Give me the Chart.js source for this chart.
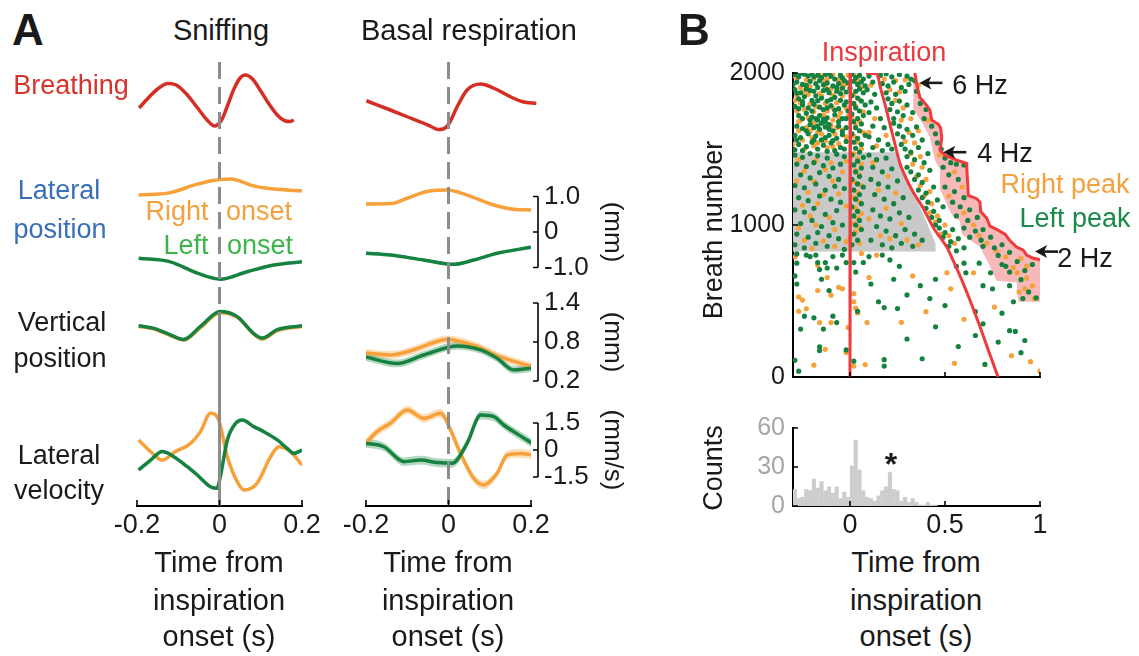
<!DOCTYPE html>
<html>
<head>
<meta charset="utf-8">
<title>Whisker position and breathing</title>
<script src="https://cdn.jsdelivr.net/npm/chart.js@4.4.1/dist/chart.umd.min.js"></script>
<style>
  html, body { margin: 0; background: #fff; }
  #fig { position: relative; width: 1139px; height: 656px; overflow: hidden;
         font-family: "Liberation Sans", Arial, sans-serif; color: #1a1a1a; }
  #fig canvas { position: absolute; }
  .lbl { position: absolute; white-space: nowrap; line-height: 1; font-size: 27px;
         transform: translate(-50%, -50%); }
  .vert { transform: translate(-50%, -50%) rotate(-90deg); }
  .panel { font-weight: bold; font-size: 44px; }
  .head, .axt { font-size: 29px; }
</style>
</head>
<body>
<div id="fig">
  <canvas id="sniff" width="230" height="500" style="left:100px;top:50px"></canvas>
  <canvas id="basal" width="310" height="500" style="left:330px;top:50px"></canvas>
  <canvas id="raster" width="439" height="350" style="left:700px;top:50px"></canvas>
  <canvas id="hist" width="439" height="140" style="left:700px;top:405px"></canvas>

  <div class="lbl panel" style="left:28px;top:30px">A</div>
  <div class="lbl panel" style="left:694px;top:30px">B</div>
  <div class="lbl head" style="left:221px;top:30px">Sniffing</div>
  <div class="lbl head" style="left:469px;top:30px">Basal respiration</div>

  <div class="lbl" style="left:71px;top:85px;color:#d6332a">Breathing</div>
  <div class="lbl" style="left:59px;top:190px;color:#3a6fb7">Lateral</div>
  <div class="lbl" style="left:60px;top:229px;color:#3a6fb7">position</div>
  <div class="lbl" style="left:177px;top:211px;color:#f5a03e">Right</div>
  <div class="lbl" style="left:259px;top:211px;color:#f5a03e">onset</div>
  <div class="lbl" style="left:186px;top:245px;color:#3bb54a">Left</div>
  <div class="lbl" style="left:260px;top:245px;color:#3bb54a">onset</div>
  <div class="lbl" style="left:62px;top:322px">Vertical</div>
  <div class="lbl" style="left:60px;top:358px">position</div>
  <div class="lbl" style="left:59px;top:455px">Lateral</div>
  <div class="lbl" style="left:59px;top:490px">velocity</div>

  <div class="lbl axt" style="left:219px;top:562px">Time from</div>
  <div class="lbl axt" style="left:219px;top:600px">inspiration</div>
  <div class="lbl axt" style="left:219px;top:636px">onset (s)</div>
  <div class="lbl axt" style="left:448px;top:562px">Time from</div>
  <div class="lbl axt" style="left:448px;top:600px">inspiration</div>
  <div class="lbl axt" style="left:448px;top:636px">onset (s)</div>

  <div class="lbl" style="left:884px;top:52px;color:#e8393f">Inspiration</div>
  <div class="lbl" style="left:980px;top:85px">6 Hz</div>
  <div class="lbl" style="left:1005px;top:153px">4 Hz</div>
  <div class="lbl" style="left:1065px;top:184px;color:#f5a03e">Right peak</div>
  <div class="lbl" style="left:1075px;top:218px;color:#1a8a48">Left peak</div>
  <div class="lbl" style="left:1085px;top:258px">2 Hz</div>
  <div class="lbl vert" style="left:713px;top:230px">Breath number</div>
  <div class="lbl vert" style="left:713px;top:468px">Counts</div>
  <div class="lbl" style="left:891px;top:464px;font-size:32px;font-weight:bold">*</div>
  <div class="lbl axt" style="left:916px;top:562px">Time from</div>
  <div class="lbl axt" style="left:916px;top:600px">inspiration</div>
  <div class="lbl axt" style="left:916px;top:636px">onset (s)</div>
</div>

<script>
Chart.defaults.font.family = '"Liberation Sans", Arial, sans-serif';
Chart.defaults.color = '#1a1a1a';

// ---------- panel A: mean traces [time (s), value] ----------
const timeTicks = [-0.2, 0, 0.2];

// breathing (a.u.)
const sniffBreath = [[-0.195,-0.32],[-0.175,0.04],[-0.15,0.44],[-0.125,0.66],[-0.105,0.6],[-0.08,0.24],[-0.055,-0.28],[-0.03,-0.8],[-0.012,-1.04],[0.005,-0.8],[0.02,-0.2],[0.035,0.44],[0.05,0.88],[0.063,1.0],[0.08,0.84],[0.1,0.36],[0.12,-0.16],[0.14,-0.6],[0.16,-0.84],[0.172,-0.86],[0.18,-0.8]];
const basalBreath = [[-0.199,-0.03],[-0.141,-0.4],[-0.1,-0.67],[-0.06,-0.93],[-0.04,-1.08],[-0.025,-1.18],[-0.013,-1.16],[0.001,-0.95],[0.021,-0.27],[0.045,0.4],[0.078,0.64],[0.11,0.47],[0.15,0.13],[0.18,-0.07],[0.213,-0.13]];

// lateral position (mm)
const sniffLatRight = [[-0.196,1.04],[-0.119,1.11],[-0.054,1.35],[0.002,1.48],[0.027,1.49],[0.083,1.3],[0.116,1.23],[0.2,1.16]];
const sniffLatLeft = [[-0.196,-0.74],[-0.119,-0.84],[-0.054,-1.16],[0.002,-1.33],[0.067,-1.12],[0.132,-0.93],[0.2,-0.84]];
const basalLatRight = [[-0.2,0.79],[-0.14,0.8],[-0.1,0.95],[-0.052,1.14],[-0.003,1.18],[0.045,1.04],[0.102,0.79],[0.158,0.64],[0.2,0.62]];
const basalLatLeft = [[-0.2,-0.6],[-0.14,-0.65],[-0.06,-0.79],[0.013,-0.91],[0.061,-0.79],[0.118,-0.6],[0.2,-0.43]];

// vertical position (mm)
const sniffVertRight = [[-0.196,1.04],[-0.159,1.0],[-0.119,0.9],[-0.087,0.83],[-0.046,1.02],[0.002,1.25],[0.043,1.18],[0.083,0.92],[0.104,0.845],[0.14,0.975],[0.2,1.04]];
const sniffVertLeft = [[-0.196,1.05],[-0.159,1.01],[-0.119,0.91],[-0.087,0.84],[-0.046,1.04],[0.002,1.27],[0.043,1.19],[0.083,0.93],[0.104,0.86],[0.14,0.99],[0.2,1.05]];
const basalVertRight = [[-0.201,0.63],[-0.141,0.6],[-0.084,0.68],[-0.003,0.84],[0.061,0.75],[0.126,0.57],[0.203,0.42]];
const basalVertLeft = [[-0.201,0.57],[-0.124,0.47],[-0.06,0.6],[0.021,0.74],[0.078,0.68],[0.118,0.55],[0.158,0.37],[0.203,0.4]];

// lateral velocity (mm/s)
const sniffVelRight = [[-0.196,0.56],[-0.167,-0.09],[-0.139,-0.56],[-0.107,-0.09],[-0.07,0.37],[-0.046,1.02],[-0.022,2.04],[-0.002,1.67],[0.019,-0.37],[0.043,-1.76],[0.059,-2.22],[0.091,-1.85],[0.124,-0.37],[0.144,0.18],[0.172,-0.09],[0.2,-0.83]];
const sniffVelLeft = [[-0.196,-1.11],[-0.167,-0.56],[-0.139,-0.09],[-0.111,-0.37],[-0.078,-0.93],[-0.054,-1.39],[-0.022,-2.04],[-0.006,-2.13],[0.002,-1.48],[0.019,0.56],[0.039,1.48],[0.055,1.67],[0.083,1.3],[0.107,1.02],[0.14,0.56],[0.164,0.09],[0.18,-0.19],[0.2,0]];
const basalVelRight = [[-0.201,0.37],[-0.173,1.02],[-0.141,1.48],[-0.1,2.22],[-0.06,1.76],[-0.019,2.04],[0.005,1.11],[0.029,-0.19],[0.061,-1.57],[0.085,-1.94],[0.118,-1.29],[0.142,-0.28],[0.175,-0.19],[0.203,-0.28]];
const basalVelLeft = [[-0.201,0.37],[-0.157,0.18],[-0.108,-0.65],[-0.068,-0.56],[-0.027,-0.7],[0.009,-0.74],[0.045,0.37],[0.078,1.94],[0.11,1.85],[0.134,1.39],[0.158,1.02],[0.203,0.37]];

// s.e.m. half-widths of the shaded bands
const semSniff = { lat: 0.02, vert: 0.02, vel: 0.09 };
const semBasal = { lat: 0.04, vert: 0.06, vel: 0.24 };

// scale bar ticks on the basal column
const latBar = [-1, 0, 1], latBarLabels = ['-1.0', '0', '1.0'];
const vertBar = [0.2, 0.8, 1.4], vertBarLabels = ['0.2', '0.8', '1.4'];
const velBar = [-1.5, 0, 1.5], velBarLabels = ['-1.5', '0', '1.5'];

// ---------- panel B: peaks per breath [time (s), breath number] ----------
const breathTicks = [0, 1000, 2000];
const rasterTimeTicks = [0, 0.5, 1];

const thisInsp = [[0.003,2000],[0,0]];
const nextInsp = [[0.084,2000],[0.14,1994],[0.158,1913],[0.185,1790],[0.211,1659],[0.237,1530],[0.263,1405],[0.298,1300],[0.333,1215],[0.386,1109],[0.439,982],[0.509,855],[0.545,760],[0.579,665],[0.63,510],[0.68,345],[0.73,170],[0.779,0]];
const secondInsp = [[0.342,2000],[0.351,1924],[0.368,1839],[0.404,1786],[0.421,1754],[0.43,1691],[0.465,1663],[0.477,1638],[0.483,1575],[0.474,1490],[0.5,1458],[0.562,1427],[0.614,1405],[0.617,1321],[0.623,1194],[0.667,1173],[0.684,1151],[0.688,1088],[0.719,1046],[0.737,992],[0.772,971],[0.816,940],[0.842,897],[0.877,855],[0.912,834],[0.93,802],[0.965,781],[0.991,775],[1.0,768]];
const pinkZone = [[0.342,2000],[0.351,1924],[0.368,1839],[0.404,1786],[0.421,1754],[0.43,1691],[0.465,1663],[0.477,1638],[0.483,1575],[0.474,1490],[0.5,1458],[0.562,1427],[0.614,1405],[0.617,1321],[0.623,1194],[0.667,1173],[0.684,1151],[0.688,1088],[0.719,1046],[0.737,992],[0.772,971],[0.816,940],[0.842,897],[0.877,855],[0.912,834],[0.93,802],[0.965,781],[0.991,775],[1.0,768],
  [1.0,495],[0.886,495],[0.877,622],[0.772,633],[0.737,728],[0.684,855],[0.588,940],[0.579,1024],[0.535,1067],[0.474,1236],[0.474,1363],[0.447,1427],[0.421,1575],[0.386,1659],[0.333,1765],[0.333,2000]];
const grayBand = [[-0.3,1479],[0.24,1479],[0.3,1300],[0.36,1140],[0.41,1000],[0.45,880],[0.45,825],[-0.3,825]];

const leftPeaks = [
  [-0.29,1990],[-0.27,1975],[-0.24,1992],[-0.22,1980],[-0.2,1995],[-0.17,1985],[-0.15,1970],[-0.13,1990],[-0.1,1978],[-0.08,1960],[-0.05,1985],[-0.03,1950],
  [-0.28,1940],[-0.25,1925],[-0.21,1945],[-0.18,1930],[-0.16,1950],[-0.12,1935],[-0.09,1915],[-0.06,1930],[-0.04,1900],
  [-0.29,1890],[-0.26,1870],[-0.23,1895],[-0.19,1880],[-0.17,1905],[-0.14,1885],[-0.11,1870],[-0.07,1880],[-0.02,1875],
  [-0.27,1830],[-0.24,1845],[-0.2,1820],[-0.18,1850],[-0.15,1835],[-0.12,1815],[-0.08,1840],[-0.05,1820],
  [-0.29,1780],[-0.25,1790],[-0.22,1770],[-0.19,1795],[-0.16,1775],[-0.14,1760],[-0.1,1785],[-0.06,1765],[-0.03,1790],
  [-0.27,1720],[-0.23,1735],[-0.2,1710],[-0.18,1700],[-0.17,1690],[-0.16,1720],[-0.15,1670],[-0.14,1695],[-0.13,1680],[-0.12,1705],[-0.11,1660],[-0.08,1725],[-0.04,1700],
  [-0.28,1650],[-0.25,1635],[-0.21,1660],[-0.19,1640],[-0.16,1630],[-0.13,1645],[-0.09,1620],[-0.06,1650],[-0.02,1640],
  [-0.29,1590],[-0.26,1575],[-0.22,1600],[-0.18,1585],[-0.15,1560],[-0.11,1590],[-0.07,1570],[-0.04,1595],
  [-0.27,1530],[-0.23,1515],[-0.2,1545],[-0.14,1525],[-0.1,1540],[-0.05,1510],[-0.29,1495],[-0.17,1500],[-0.08,1490],
  [-0.26,1998],[-0.19,1975],[-0.11,1998],[-0.04,1968],[-0.3,1925],[-0.23,1918],[-0.14,1922],[-0.07,1905],[-0.01,1935],[-0.28,1868],[-0.21,1885],[-0.12,1890],[-0.05,1865],
  [-0.25,1812],[-0.17,1818],[-0.1,1825],[-0.02,1810],[-0.27,1765],[-0.2,1750],[-0.12,1770],[-0.08,1755],[-0.01,1750],[-0.25,1700],[-0.21,1690],[-0.06,1680],[-0.02,1700],
  [-0.23,1620],[-0.17,1650],[-0.11,1630],[-0.04,1615],[-0.28,1560],[-0.19,1560],[-0.13,1575],[-0.09,1555],[-0.02,1550],[-0.25,1490],[-0.12,1485],[-0.03,1500],
  [0.01,1990],[0.03,1970],[0.05,1985],[0.07,1960],[0.02,1945],[0.04,1925],[0.06,1940],[0.08,1915],[0.0,1900],[0.03,1880],[0.05,1895],[0.07,1870],
  [0.01,1850],[0.04,1835],[0.06,1815],[0.02,1800],[0.08,1790],[0.03,1770],[0.05,1750],[0.01,1730],[0.07,1720],[0.04,1700],[0.02,1680],[0.06,1665],
  [0.03,1640],[0.05,1620],[0.01,1600],[0.08,1590],[0.04,1570],[0.02,1545],[0.06,1530],[0.03,1505],[0.05,1480],[0.01,1460],[0.07,1445],[0.04,1420],
  [0.02,1395],[0.06,1375],[0.03,1350],[0.05,1320],[0.01,1300],[0.04,1270],[0.07,1250],[0.02,1230],[0.05,1200],[0.03,1170],[0.06,1140],[0.01,1120],
  [0.04,1090],[0.02,1060],[0.05,1030],[0.03,1000],[0.06,970],[0.02,940],[0.04,900],[0.01,870],
  [0.1,1980],[0.12,1940],[0.09,1890],[0.13,1860],[0.11,1810],[0.14,1770],[0.1,1740],[0.16,1700],[0.12,1650],[0.18,1640],[0.1,1580],[0.15,1560],[0.2,1530],[0.12,1510],[0.17,1490],[0.22,1500],
  [0.16,1985],[0.19,1995],[0.22,1975],[0.26,1990],[0.3,1980],[0.32,1960],
  [0.17,1930],[0.2,1915],[0.23,1940],[0.27,1905],[0.31,1925],[0.19,1870],[0.24,1860],[0.29,1880],
  [0.2,1830],[0.22,1800],[0.26,1815],[0.3,1790],[0.21,1760],[0.25,1745],[0.28,1720],[0.33,1740],[0.23,1700],
  [0.23,1670],[0.26,1650],[0.3,1630],[0.35,1645],[0.25,1600],[0.28,1580],[0.33,1590],[0.38,1560],
  [0.27,1530],[0.29,1500],[0.32,1480],[0.36,1510],[0.41,1470],[0.3,1450],[0.34,1430],[0.39,1410],
  [0.3,1380],[0.32,1350],[0.36,1330],[0.42,1360],[0.34,1300],[0.38,1280],[0.44,1250],[0.36,1230],[0.4,1210],
  [0.38,1180],[0.41,1150],[0.46,1165],[0.4,1110],[0.44,1090],[0.49,1120],[0.43,1050],[0.47,1030],[0.45,1000],
  [0.47,980],[0.5,950],[0.54,970],[0.49,920],[0.53,890],[0.57,910],[0.52,860],[0.56,830],[0.6,850],
  [0.34,1950],[0.35,1880],[0.37,1800],[0.4,1760],[0.39,1700],[0.43,1650],[0.45,1600],[0.46,1540],[0.48,1500],[0.5,1440],[0.53,1410],[0.56,1400],[0.6,1395],
  [0.49,1380],[0.52,1330],[0.57,1300],[0.5,1250],[0.55,1220],[0.6,1180],[0.54,1150],[0.58,1120],[0.63,1100],[0.56,1060],[0.62,1030],[0.67,1050],
  [0.6,980],[0.66,960],[0.7,970],[0.63,920],[0.69,900],[0.74,920],[0.7,860],[0.76,850],[0.8,870],[0.78,800],[0.84,820],[0.8,740],[0.88,760],[0.84,690],[0.92,700],[0.9,640],[0.96,740],[0.94,560],[0.98,520],
  [-0.29,1460],[-0.25,1445],[-0.21,1470],[-0.17,1455],[-0.12,1440],[-0.07,1465],[-0.03,1450],
  [-0.28,1400],[-0.23,1385],[-0.19,1410],[-0.14,1390],[-0.09,1375],[-0.05,1400],
  [-0.26,1330],[-0.21,1310],[-0.16,1345],[-0.11,1320],[-0.06,1300],
  [-0.29,1260],[-0.24,1245],[-0.18,1270],[-0.13,1230],[-0.08,1255],[-0.03,1240],
  [-0.27,1180],[-0.22,1160],[-0.16,1190],[-0.1,1170],[-0.05,1150],
  [-0.29,1100],[-0.24,1085],[-0.19,1110],[-0.13,1070],[-0.07,1095],
  [-0.26,1010],[-0.2,1030],[-0.15,990],[-0.09,1015],[-0.04,1000],
  [-0.28,940],[-0.22,920],[-0.17,950],[-0.11,930],[-0.06,910],
  [-0.29,870],[-0.24,850],[-0.18,880],[-0.12,860],[-0.03,840],
  [0.1,1460],[0.14,1430],[0.19,1440],[0.12,1380],[0.17,1350],[0.22,1370],[0.11,1300],[0.15,1270],[0.2,1250],[0.25,1290],[0.13,1200],[0.18,1170],[0.23,1140],[0.28,1180],
  [0.12,1100],[0.16,1060],[0.21,1040],[0.26,1080],[0.31,1050],[0.14,990],[0.19,960],[0.24,930],[0.29,970],[0.34,940],[0.11,900],[0.17,870],[0.22,850],[0.27,880],[0.33,860],[0.38,900],
  [-0.28,810],[-0.23,802],[-0.21,792],[-0.18,802],[-0.17,753],[-0.13,753],[-0.12,717],[-0.16,707],[-0.09,792],[-0.07,717],[-0.04,802],[-0.02,753],[0.02,753],[0.03,690],[0.07,753],[0.1,792],[0.17,802],
  [-0.28,749],[-0.29,665],[-0.28,612],[-0.15,643],[-0.11,569],[0.11,612],[0.04,432],[0.15,495],[0.18,457],[-0.24,400],[-0.19,389],[-0.26,315],[-0.09,400],[-0.07,358],[-0.14,315],
  [-0.16,199],[-0.16,174],[-0.02,178],[-0.29,110],[-0.27,38],[0.02,104],[0.18,114],[0.18,72],
  [0.21,770],[0.26,728],[0.23,643],[0.56,728],[0.6,749],[0.61,686],[0.68,749],[0.7,601],[0.74,686],[0.82,728],[0.75,580],[0.84,601],[0.86,495],[0.91,516],
  [0.37,601],[0.45,643],[0.42,516],[0.3,540],[0.25,450],[0.5,470],[0.66,430],[0.7,350],[0.8,420],[0.87,300],[0.92,240],[0.84,305],[0.66,273],[0.71,83],[0.3,250],[0.45,330],[0.57,200],[0.38,120],[0.9,160],[0.78,230]
];

const rightPeaks = [
  [-0.28,1965],[-0.23,1955],[-0.19,1965],[-0.14,1948],[-0.09,1995],[-0.06,1958],[-0.01,1985],
  [-0.26,1905],[-0.21,1910],[-0.13,1910],[-0.1,1895],[-0.03,1920],
  [-0.28,1855],[-0.22,1860],[-0.16,1865],[-0.09,1855],[-0.04,1850],
  [-0.26,1805],[-0.21,1795],[-0.13,1800],[-0.07,1805],[-0.02,1770],
  [-0.28,1750],[-0.24,1760],[-0.19,1745],[-0.12,1750],[-0.05,1740],
  [-0.26,1690],[-0.22,1705],[-0.09,1690],[-0.06,1710],[-0.01,1715],
  [-0.27,1620],[-0.23,1640],[-0.17,1610],[-0.1,1655],[-0.04,1625],
  [-0.25,1560],[-0.2,1575],[-0.13,1555],[-0.08,1600],[-0.02,1580],
  [-0.24,1500],[-0.12,1510],[-0.06,1535],[-0.19,1520],
  [-0.3,1980],[-0.16,1995],[-0.12,1960],[-0.04,1935],[-0.24,1880],[-0.15,1850],[-0.06,1890],[-0.29,1820],[-0.18,1780],[-0.09,1770],
  [-0.27,1680],[-0.14,1725],[-0.19,1670],[-0.07,1640],[-0.21,1620],[-0.15,1600],[-0.3,1530],[-0.17,1540],[-0.09,1515],
  [0.02,1995],[0.04,1955],[0.06,1905],[0.02,1860],[0.05,1825],[0.03,1780],[0.07,1745],[0.01,1710],[0.05,1685],[0.03,1655],[0.07,1610],[0.02,1585],
  [0.04,1545],[0.06,1500],[0.02,1470],[0.04,1435],[0.06,1400],[0.03,1360],[0.05,1330],[0.02,1285],[0.06,1260],[0.04,1215],[0.02,1180],[0.05,1150],
  [0.03,1110],[0.06,1075],[0.04,1045],[0.02,1010],[0.05,985],[0.03,955],[0.0,920],[0.05,880],
  [0.11,1920],[0.13,1700],[0.1,1610],[0.19,1590],[0.14,1520],
  [0.18,1960],[0.24,1950],[0.29,1955],[0.21,1890],[0.26,1875],[0.24,1820],[0.28,1770],[0.32,1700],[0.27,1690],[0.31,1610],[0.36,1620],[0.29,1550],
  [0.34,1540],[0.32,1470],[0.37,1450],[0.33,1400],[0.38,1380],[0.35,1320],[0.4,1300],[0.37,1260],[0.42,1220],[0.39,1190],[0.43,1140],[0.42,1080],
  [0.46,1060],[0.45,1020],[0.5,1000],[0.48,940],[0.52,930],[0.55,880],
  [0.36,1920],[0.41,1690],[0.47,1460],[0.55,1350],[0.52,1190],[0.59,1250],[0.6,1080],[0.65,1000],[0.68,930],[0.72,880],[0.77,830],[0.82,790],[0.86,720],[0.9,780],[0.93,650],[0.96,600],[0.89,560],
  [-0.27,1430],[-0.18,1425],[-0.1,1410],[-0.02,1420],[-0.24,1355],[-0.13,1365],[-0.04,1350],[-0.28,1290],[-0.19,1285],[-0.09,1290],
  [-0.22,1215],[-0.14,1200],[-0.06,1205],[-0.25,1130],[-0.17,1140],[-0.02,1125],[-0.21,1060],[-0.11,1050],[-0.27,980],[-0.18,1000],[-0.08,970],
  [-0.24,900],[-0.14,895],[-0.02,890],[-0.2,845],[-0.08,860],
  [0.12,1410],[0.2,1320],[0.15,1230],[0.24,1210],[0.19,1110],[0.1,1040],[0.27,1010],[0.16,930],[0.3,900],[0.21,910],[0.36,870],
  [-0.29,790],[-0.17,735],[0.06,813],[0.14,802],[-0.12,654],[-0.17,569],[-0.1,538],[-0.06,590],[-0.04,580],[0.1,654],[0.02,548],[0.02,495],[0.03,453],[0.04,421],
  [-0.27,527],[-0.25,506],[-0.27,432],[-0.23,449],[-0.16,358],[-0.1,358],[-0.01,326],[0.09,358],[-0.13,182],[-0.02,161],[-0.19,78],[0.02,72],[0.08,82],
  [0.33,665],[0.53,580],[0.65,686],[0.88,686],[0.93,728],[0.92,580],[0.97,516],[0.51,686],[0.4,430],[0.6,380],[0.95,101],[1.0,38],[0.85,140],[0.76,460],[0.27,360],[0.55,90]
];

// histogram of right-peak times (bin centres in s, counts)
const binCenters = [-0.29,-0.27,-0.25,-0.23,-0.21,-0.19,-0.17,-0.15,-0.13,-0.11,-0.09,-0.07,-0.05,-0.03,-0.01,0.01,0.03,0.05,0.07,0.09,0.11,0.13,0.15,0.17,0.19,0.21,0.23,0.25,0.27,0.29,0.31,0.33,0.35,0.37,0.39,0.41,0.43,0.45,0.47,0.49];
const binCounts = [13,6,7,13,12,21,14,19,12,15,10,15,6,11,7,31,51,28,12,7,6,4,8,12,15,26,13,12,4,7,3,6,3,1,1,3,1,1,0,0];
const countTicks = [0, 30, 60];

// ---------- colours ----------
const ORANGE = '#f7a13b', GREEN = '#168240', BREATH = '#d52f25', RED = '#ee3b3e';
const ORANGE_BAND = 'rgba(247,161,59,0.35)', GREEN_BAND = 'rgba(22,130,64,0.32)';

// ---------- layout (page pixels) ----------
const COL_TOP = 50, AREA_TOP = 62, AREA_BOTTOM = 506, SNIFF_SOLID_FROM = 328;

// all four rows share one plot area; each row axis is scaled so its values land in its own strip
function rowAxis(v0, p0, pxPerUnit) {
  return { type: 'linear', display: false,
           min: v0 - (AREA_BOTTOM - p0) / pxPerUnit,
           max: v0 + (p0 - AREA_TOP) / pxPerUnit };
}
function rowScales() {
  return {
    yBreath: rowAxis(0, 100, 25),
    yLat: rowAxis(0, 232, 35.5),
    yVert: rowAxis(0.8, 342, 65),
    yVel: rowAxis(0, 450, 18)
  };
}

const xy = pts => pts.map(([x, y]) => ({ x, y }));

function trace(points, color, axis) {
  return { data: xy(points), yAxisID: axis, borderColor: color, borderWidth: 3.5,
           pointRadius: 0, fill: false, cubicInterpolationMode: 'monotone', order: 0 };
}
function band(points, sem, color, axis) {
  return [
    { data: points.map(([x, y]) => ({ x, y: y + sem })), yAxisID: axis, borderWidth: 0,
      pointRadius: 0, fill: false, cubicInterpolationMode: 'monotone', order: 1 },
    { data: points.map(([x, y]) => ({ x, y: y - sem })), yAxisID: axis, borderWidth: 0,
      pointRadius: 0, fill: '-1', backgroundColor: color, cubicInterpolationMode: 'monotone', order: 1 }
  ];
}

const fmtTime = v => (Math.abs(v) < 1e-9 ? '0' : String(Math.round(v * 10) / 10));

// dashed line at inspiration onset
const zeroLine = {
  id: 'zeroLine',
  afterDatasetsDraw(chart, args, opts) {
    const { ctx, chartArea } = chart;
    const x = chart.scales.x.getPixelForValue(0);
    const split = opts.solidFrom != null ? opts.solidFrom : chartArea.bottom;
    ctx.save();
    ctx.strokeStyle = '#8c8c8c';
    ctx.lineWidth = 3;
    ctx.setLineDash([17, 8]);
    ctx.beginPath(); ctx.moveTo(x, chartArea.top); ctx.lineTo(x, split); ctx.stroke();
    if (opts.solidFrom != null) {
      ctx.setLineDash([]);
      ctx.beginPath(); ctx.moveTo(x, split); ctx.lineTo(x, chartArea.bottom); ctx.stroke();
    }
    ctx.restore();
  }
};

// short tick marks pointing into the plot
const innerTicks = {
  id: 'innerTicks',
  afterDraw(chart, args, opts) {
    const { ctx, chartArea } = chart;
    ctx.save();
    ctx.strokeStyle = '#000';
    ctx.lineWidth = 1.6;
    ctx.beginPath();
    (opts.x || []).forEach(v => {
      const x = chart.scales.x.getPixelForValue(v);
      ctx.moveTo(x, chartArea.bottom); ctx.lineTo(x, chartArea.bottom - opts.len);
    });
    (opts.y || []).forEach(v => {
      const y = chart.scales.y.getPixelForValue(v);
      ctx.moveTo(chartArea.left, y); ctx.lineTo(chartArea.left + opts.len, y);
    });
    ctx.stroke();
    ctx.restore();
  }
};

// bracket-style scale bars with units to the right of the basal column
const scaleBars = {
  id: 'scaleBars',
  afterDraw(chart, args, opts) {
    const { ctx, chartArea } = chart;
    const bx = chartArea.right + opts.gap;
    ctx.save();
    ctx.strokeStyle = '#000';
    ctx.fillStyle = '#1a1a1a';
    ctx.lineWidth = 1.6;
    ctx.font = opts.font;
    ctx.textBaseline = 'middle';
    opts.bars.forEach(bar => {
      const sc = chart.scales[bar.axis];
      const ys = bar.ticks.map(v => sc.getPixelForValue(v));
      const top = Math.min(...ys), bottom = Math.max(...ys);
      ctx.beginPath();
      ctx.moveTo(bx, top); ctx.lineTo(bx, bottom);
      ys.forEach(y => { ctx.moveTo(bx - 5, y); ctx.lineTo(bx, y); });
      ctx.stroke();
      ctx.textAlign = 'left';
      bar.ticks.forEach((v, i) => ctx.fillText(bar.labels[i], bx + 6, ys[i]));
      ctx.save();
      ctx.translate(chartArea.right + opts.unitOffset, (top + bottom) / 2);
      ctx.rotate(Math.PI / 2);
      ctx.textAlign = 'center';
      ctx.fillText(bar.unit, 0, 0);
      ctx.restore();
    });
    ctx.restore();
  }
};

// arrows pointing at the 6, 4 and 2 Hz steps
const hzArrows = {
  id: 'hzArrows',
  afterDraw(chart, args, opts) {
    const { ctx } = chart;
    ctx.save();
    ctx.strokeStyle = '#1a1a1a';
    ctx.fillStyle = '#1a1a1a';
    ctx.lineWidth = 2.6;
    opts.tips.forEach(([t, n]) => {
      const x = chart.scales.x.getPixelForValue(t);
      const y = chart.scales.y.getPixelForValue(n);
      ctx.beginPath(); ctx.moveTo(x + 6, y); ctx.lineTo(x + opts.len, y); ctx.stroke();
      ctx.beginPath();
      ctx.moveTo(x, y); ctx.lineTo(x + 12, y - 6.5); ctx.lineTo(x + 9, y); ctx.lineTo(x + 12, y + 6.5);
      ctx.closePath(); ctx.fill();
    });
    ctx.restore();
  }
};

const baseOptions = {
  responsive: false, animation: false, devicePixelRatio: 1, events: []
};

function columnChart(id, datasets, padding, plugins, pluginOpts) {
  return new Chart(document.getElementById(id), {
    type: 'line',
    data: { datasets },
    options: {
      ...baseOptions,
      layout: { padding },
      plugins: { legend: { display: false }, tooltip: { enabled: false }, ...pluginOpts },
      scales: {
        x: {
          type: 'linear', min: -0.2, max: 0.2,
          afterBuildTicks: s => { s.ticks = timeTicks.map(value => ({ value })); },
          afterFit: s => { s.height = 44; },
          grid: { display: false, drawTicks: false },
          border: { display: true, color: '#000', width: 2 },
          ticks: { font: { size: 27 }, padding: 3, color: '#1a1a1a', maxRotation: 0, callback: v => fmtTime(v) }
        },
        ...rowScales()
      }
    },
    plugins: [zeroLine, innerTicks, ...plugins]
  });
}

// Sniffing column
columnChart('sniff', [
  trace(sniffBreath, BREATH, 'yBreath'),
  trace(sniffLatLeft, GREEN, 'yLat'),
  trace(sniffLatRight, ORANGE, 'yLat'),
  trace(sniffVertLeft, GREEN, 'yVert'),
  trace(sniffVertRight, ORANGE, 'yVert'),
  trace(sniffVelLeft, GREEN, 'yVel'),
  trace(sniffVelRight, ORANGE, 'yVel'),
  ...band(sniffLatLeft, semSniff.lat, GREEN_BAND, 'yLat'),
  ...band(sniffLatRight, semSniff.lat, ORANGE_BAND, 'yLat'),
  ...band(sniffVertLeft, semSniff.vert, GREEN_BAND, 'yVert'),
  ...band(sniffVertRight, semSniff.vert, ORANGE_BAND, 'yVert'),
  ...band(sniffVelLeft, semSniff.vel, GREEN_BAND, 'yVel'),
  ...band(sniffVelRight, semSniff.vel, ORANGE_BAND, 'yVel')
], { left: 37, right: 28, top: AREA_TOP - COL_TOP, bottom: 0 }, [], {
  zeroLine: { solidFrom: SNIFF_SOLID_FROM - COL_TOP },
  innerTicks: { x: timeTicks, len: 6 }
});

// Basal respiration column
columnChart('basal', [
  { ...trace(basalBreath, BREATH, 'yBreath'), clip: false },
  trace(basalLatLeft, GREEN, 'yLat'),
  trace(basalLatRight, ORANGE, 'yLat'),
  trace(basalVertLeft, GREEN, 'yVert'),
  trace(basalVertRight, ORANGE, 'yVert'),
  trace(basalVelLeft, GREEN, 'yVel'),
  trace(basalVelRight, ORANGE, 'yVel'),
  ...band(basalLatLeft, semBasal.lat, GREEN_BAND, 'yLat'),
  ...band(basalLatRight, semBasal.lat, ORANGE_BAND, 'yLat'),
  ...band(basalVertLeft, semBasal.vert, GREEN_BAND, 'yVert'),
  ...band(basalVertRight, semBasal.vert, ORANGE_BAND, 'yVert'),
  ...band(basalVelLeft, semBasal.vel, GREEN_BAND, 'yVel'),
  ...band(basalVelRight, semBasal.vel, ORANGE_BAND, 'yVel')
], { left: 36, right: 109, top: AREA_TOP - COL_TOP, bottom: 0 }, [scaleBars], {
  zeroLine: {},
  innerTicks: { x: timeTicks, len: 6 },
  scaleBars: {
    gap: 7, unitOffset: 81, font: '26px "Liberation Sans", Arial, sans-serif',
    bars: [
      { axis: 'yLat', ticks: latBar, labels: latBarLabels, unit: '(mm)' },
      { axis: 'yVert', ticks: vertBar, labels: vertBarLabels, unit: '(mm)' },
      { axis: 'yVel', ticks: velBar, labels: velBarLabels, unit: '(mm/s)' }
    ]
  }
});

// Panel B raster
new Chart(document.getElementById('raster'), {
  type: 'line',
  data: {
    datasets: [
      { data: xy(thisInsp), borderColor: RED, borderWidth: 3, pointRadius: 0, tension: 0, order: 0 },
      { data: xy(nextInsp), borderColor: RED, borderWidth: 3, pointRadius: 0, tension: 0.3, order: 0 },
      { data: xy(secondInsp), borderColor: RED, borderWidth: 3, pointRadius: 0, tension: 0, order: 0 },
      { data: xy(leftPeaks), showLine: false, pointRadius: 2.6, pointBorderWidth: 0, pointBackgroundColor: GREEN, order: 1 },
      { data: xy(rightPeaks), showLine: false, pointRadius: 2.6, pointBorderWidth: 0, pointBackgroundColor: ORANGE, order: 1 },
      { data: xy(pinkZone), borderWidth: 0, borderColor: 'transparent', pointRadius: 0, tension: 0, fill: 'shape', backgroundColor: '#f6b8b8', order: 2 },
      { data: xy(grayBand), borderWidth: 0, borderColor: 'transparent', pointRadius: 0, tension: 0, fill: 'shape', backgroundColor: '#c9c9c9', order: 2 }
    ]
  },
  options: {
    ...baseOptions,
    layout: { padding: { left: 0, right: 99, top: 23, bottom: 0 } },
    plugins: {
      legend: { display: false }, tooltip: { enabled: false },
      innerTicks: { x: rasterTimeTicks, y: breathTicks, len: 5 },
      hzArrows: { tips: [[0.365, 1935], [0.491, 1479], [0.974, 825]], len: 23 }
    },
    scales: {
      x: {
        type: 'linear', min: -0.3, max: 1,
        afterFit: s => { s.height = 12; },
        grid: { display: false, drawTicks: false },
        border: { display: true, color: '#000', width: 2 },
        ticks: { display: false }
      },
      y: {
        type: 'linear', min: 0, max: 2000,
        afterBuildTicks: s => { s.ticks = breathTicks.map(value => ({ value })); },
        afterFit: s => { s.width = 93; },
        grid: { display: false, drawTicks: false },
        border: { display: true, color: '#000', width: 2 },
        ticks: { font: { size: 25 }, padding: 8, color: '#1a1a1a', callback: v => String(v) }
      }
    }
  },
  plugins: [innerTicks, hzArrows]
});

// Panel B histogram
new Chart(document.getElementById('hist'), {
  type: 'bar',
  data: {
    datasets: [{
      data: binCenters.map((x, i) => ({ x, y: binCounts[i] })),
      backgroundColor: '#cdcdcd', borderWidth: 0,
      barPercentage: 1.08, categoryPercentage: 1, grouped: false
    }]
  },
  options: {
    ...baseOptions,
    layout: { padding: { left: 0, right: 99, top: 19, bottom: 0 } },
    plugins: {
      legend: { display: false }, tooltip: { enabled: false },
      innerTicks: { x: rasterTimeTicks, y: countTicks, len: 5 }
    },
    scales: {
      x: {
        type: 'linear', min: -0.3, max: 1, offset: false,
        afterBuildTicks: s => { s.ticks = rasterTimeTicks.map(value => ({ value })); },
        afterFit: s => { s.height = 39; },
        grid: { display: false, drawTicks: false, offset: false },
        border: { display: true, color: '#000', width: 2 },
        ticks: { font: { size: 27 }, padding: 3, color: '#1a1a1a', maxRotation: 0, callback: v => (v === 0 ? '0' : String(v)) }
      },
      y: {
        type: 'linear', min: 0, max: 60,
        afterBuildTicks: s => { s.ticks = countTicks.map(value => ({ value })); },
        afterFit: s => { s.width = 93; },
        grid: { display: false, drawTicks: false },
        border: { display: true, color: '#000', width: 2 },
        ticks: { font: { size: 25 }, padding: 8, color: '#a6a6a6' }
      }
    }
  },
  plugins: [innerTicks]
});
</script>
</body>
</html>
